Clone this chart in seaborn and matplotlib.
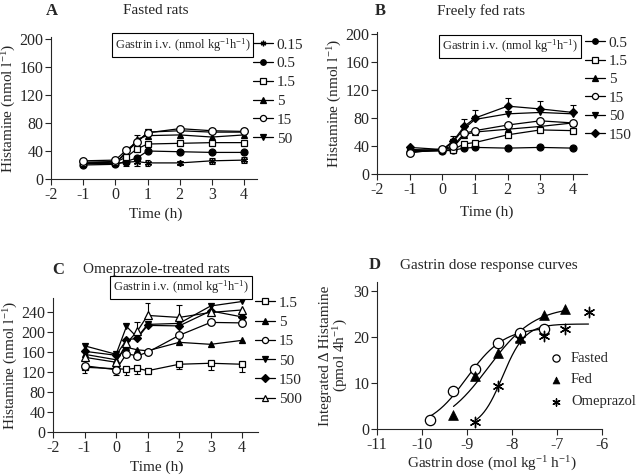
import numpy as np
import pandas as pd
import matplotlib
matplotlib.use("Agg")
import matplotlib.pyplot as plt
import seaborn as sns

# ---------------- data ----------------
time = [-1, 0, 0.33, 0.67, 1, 2, 3, 4]

# Panel A: fasted rats
a_labels = ["0.15", "0.5", "1.5", "5", "15", "50"]
a_0_15 = [22, 22, 24, 25, 23, 23, 26, 27]
a_0_5 = [20, 21, 25, 30, 40, 39, 38, 38]
a_1_5 = [23, 24, 31, 43, 50, 51, 52, 52]
a_5 = [24, 25, 35, 57, 62, 63, 60, 63]
a_15 = [26, 27, 41, 53, 66, 72, 69, 68]
a_50 = [22, 22, 39, 52, 67, 69, 67, 67]
a_err_0_15 = [3, 3, 5, 6, 4, 3, 4, 4]
a_err_5 = [0, 0, 0, 6, 0, 0, 0, 0]

# Panel B: freely fed rats
b_labels = ["0.5", "1.5", "5", "15", "50", "150"]
b_0_5 = [32, 33, 34, 37, 38, 37, 38, 37]
b_1_5 = [32, 34, 35, 43, 45, 56, 63, 62]
b_5 = [33, 35, 38, 56, 60, 64, 68, 73]
b_15 = [30, 36, 40, 58, 62, 70, 76, 73]
b_50 = [35, 34, 46, 65, 78, 86, 88, 86]
b_150 = [38, 35, 47, 68, 80, 97, 93, 88]
b_err_50 = [0, 0, 8, 0, 0, 0, 0, 0]
b_err_150 = [0, 0, 0, 10, 11, 12, 12, 10]

# Panel C: omeprazole-treated rats
c_labels = ["1.5", "5", "15", "50", "150", "500"]
c_1_5 = [130, 127, 126, 128, 123, 136, 138, 136]
c_5 = [156, 145, 170, 165, 163, 180, 176, 184]
c_15 = [133, 125, 157, 153, 160, 194, 220, 219]
c_50 = [173, 156, 212, 190, 216, 218, 253, 262]
c_150 = [162, 154, 185, 188, 214, 213, 243, 231]
c_500 = [150, 140, 178, 202, 234, 230, 240, 245]
c_err_1_5 = [12, 12, 12, 12, 0, 10, 13, 15]
c_err_500 = [0, 0, 0, 18, 25, 24, 0, 0]
c_err_50 = [0, 0, 0, 0, 0, 0, 0, 8]

# Panel D: dose response (log mol kg-1 h-1)
d_labels = ["Fasted", "Fed", "Omeprazol"]
d_fasted_x = [-9.82, -9.30, -8.82, -8.30, -7.82, -7.30]
d_fasted_y = [2.0, 8.3, 13.0, 18.8, 20.9, 21.8]
d_fed_x = [-9.30, -8.82, -8.30, -7.82, -7.30, -6.82]
d_fed_y = [3.0, 11.5, 16.6, 19.8, 24.8, 26.2]
d_ome_x = [-8.82, -8.30, -7.82, -7.30, -6.82, -6.30]
d_ome_y = [1.5, 9.3, 19.5, 20.2, 21.7, 25.5]

# ---------------- style ----------------
sns.set_style("ticks")
plt.rcParams["font.family"] = ["Liberation Serif", "DejaVu Serif"]
plt.rcParams["mathtext.default"] = "regular"
plt.rcParams["axes.unicode_minus"] = False
plt.rcParams["axes.linewidth"] = 0.8

W, H = 640, 475
fig = plt.figure(figsize=(6.4, 4.75), dpi=100)

TICK_FS = 11.5
LAB_FS = 11
LEG_FS = 11
TITLE_FS = 11


def fx(px):
    return px / W


def fy(py):
    return 1 - py / H


def make_ax(l, r, b, t):
    return fig.add_axes([fx(l), fy(b), fx(r) - fx(l), (b - t) / H])


axA = make_ax(51, 257, 179, 37)
axB = make_ax(377, 587, 174, 32)
axC = make_ax(53, 258, 432, 298)
axD = make_ax(377, 602, 429, 282)

STY = {
    "ast": dict(marker=(6, 2, 0), ms=5, mfc="k", mew=1.0),
    "fo": dict(marker="o", ms=5, mfc="k", mew=0.9),
    "os": dict(marker="s", ms=5, mfc="white", mew=0.9),
    "ft": dict(marker="^", ms=5, mfc="k", mew=0.9),
    "oo": dict(marker="o", ms=5.5, mfc="white", mew=0.9),
    "fv": dict(marker="v", ms=5, mfc="k", mew=0.9),
    "fd": dict(marker="D", ms=4.5, mfc="k", mew=0.9),
    "ot": dict(marker="^", ms=5.5, mfc="white", mew=0.9),
}


def series(ax, y, sty, label, z):
    df = pd.DataFrame({"t": time, "v": y})
    s = STY[sty]
    sns.lineplot(data=df, x="t", y="v", ax=ax, color="k", lw=0.9,
                 marker=s["marker"], markersize=s["ms"],
                 markerfacecolor=s["mfc"], markeredgecolor="k",
                 markeredgewidth=s["mew"], label=label, zorder=z)


def errs(ax, y, up=None, lo=None, cw=0.09):
    for i, t in enumerate(time):
        if up is not None and up[i] > 0:
            ax.vlines(t, y[i], y[i] + up[i], color="k", lw=0.8, zorder=1)
            ax.hlines(y[i] + up[i], t - cw, t + cw, color="k", lw=0.8, zorder=1)
        if lo is not None and lo[i] > 0:
            ax.vlines(t, y[i] - lo[i], y[i], color="k", lw=0.8, zorder=1)
            ax.hlines(y[i] - lo[i], t - cw, t + cw, color="k", lw=0.8, zorder=1)


def style_time_axis(ax, ymax, yticks, xmax):
    ax.set_xlim(-2, xmax)
    ax.set_ylim(0, ymax)
    ax.set_xticks(range(-2, 5))
    ax.set_yticks(yticks)
    sns.despine(ax=ax)
    ax.tick_params(direction="out", length=4, width=0.8, labelsize=TICK_FS, pad=1.5)
    ax.set_xlabel("Time (h)", fontsize=LAB_FS)
    ax.set_ylabel(r"Histamine (nmol l$^{-1}$)", fontsize=LAB_FS)


def legend_at(ax, handles, labels, left_px, first_row_px, pitch, fs=LEG_FS,
              hl=1.3, htp=0.25, ms=0.8):
    fpx = fs * 100 / 72
    base = 0.912 * fpx
    top_px = first_row_px - base / 2
    leg = ax.legend(handles, labels, loc="upper left",
                    bbox_to_anchor=(fx(left_px), fy(top_px)),
                    bbox_transform=fig.transFigure, frameon=False,
                    fontsize=fs, handlelength=hl, handletextpad=htp,
                    borderpad=0, borderaxespad=0,
                    labelspacing=(pitch - base) / fpx,
                    markerscale=ms)
    return leg


def box_text(cx, cy, s):
    fig.text(fx(cx), fy(cy), s, ha="center", va="center", fontsize=9,
             bbox=dict(boxstyle="square,pad=0.25", fc="white", ec="k", lw=0.8))


# ---------------- Panel A ----------------
series(axA, a_0_15, "ast", a_labels[0], 3)
series(axA, a_0_5, "fo", a_labels[1], 3)
series(axA, a_50, "fv", a_labels[5], 3)
series(axA, a_5, "ft", a_labels[3], 3)
series(axA, a_1_5, "os", a_labels[2], 4)
series(axA, a_15, "oo", a_labels[4], 4)
errs(axA, a_0_15, up=a_err_0_15, lo=a_err_0_15)
errs(axA, a_5, up=a_err_5)
style_time_axis(axA, 203, range(0, 201, 40), 4.4)
axA.xaxis.set_label_coords(0.51, -0.2)
axA.yaxis.set_label_coords(-0.16, 0.5)
h, l = axA.get_legend_handles_labels()
order = [l.index(x) for x in a_labels]
legend_at(axA, [h[i] for i in order], a_labels, 253, 45, 19)
box_text(182.5, 45, r"Gastrin i.v. (nmol kg$^{-1}$h$^{-1}$)")
fig.text(fx(52), fy(11), "A", ha="center", va="center", fontsize=12, fontweight="bold")
fig.text(fx(123), fy(11), "Fasted rats", ha="left", va="center", fontsize=TITLE_FS)

# ---------------- Panel B ----------------
series(axB, b_0_5, "fo", b_labels[0], 3)
series(axB, b_1_5, "os", b_labels[1], 4)
series(axB, b_5, "ft", b_labels[2], 3)
series(axB, b_15, "oo", b_labels[3], 4)
series(axB, b_50, "fv", b_labels[4], 3)
series(axB, b_150, "fd", b_labels[5], 3)
errs(axB, b_50, up=b_err_50)
errs(axB, b_150, up=b_err_150)
style_time_axis(axB, 203, range(0, 201, 40), 4.43)
axB.xaxis.set_label_coords(0.52, -0.22)
axB.yaxis.set_label_coords(-0.155, 0.5)
h, l = axB.get_legend_handles_labels()
order = [l.index(x) for x in b_labels]
legend_at(axB, [h[i] for i in order], b_labels, 585, 43, 18.6)
box_text(510, 46.5, r"Gastrin i.v. (nmol kg$^{-1}$h$^{-1}$)")
fig.text(fx(380), fy(11), "B", ha="center", va="center", fontsize=12, fontweight="bold")
fig.text(fx(437), fy(11), "Freely fed rats", ha="left", va="center", fontsize=TITLE_FS)

# ---------------- Panel C ----------------
series(axC, c_1_5, "os", c_labels[0], 4)
series(axC, c_5, "ft", c_labels[1], 3)
series(axC, c_15, "oo", c_labels[2], 4)
series(axC, c_50, "fv", c_labels[3], 3)
series(axC, c_150, "fd", c_labels[4], 3)
series(axC, c_500, "ot", c_labels[5], 4)
errs(axC, c_1_5, lo=c_err_1_5)
errs(axC, c_500, up=c_err_500)
errs(axC, c_50, up=c_err_50)
style_time_axis(axC, 269, range(0, 241, 40), 4.5)
axC.xaxis.set_label_coords(0.507, -0.21)
axC.yaxis.set_label_coords(-0.163, 0.5)
h, l = axC.get_legend_handles_labels()
order = [l.index(x) for x in c_labels]
legend_at(axC, [h[i] for i in order], c_labels, 255, 303, 19.5)
box_text(181, 287.5, r"Gastrin i.v. (nmol kg$^{-1}$h$^{-1}$)")
fig.text(fx(58), fy(270), "C", ha="center", va="center", fontsize=12, fontweight="bold")
fig.text(fx(83), fy(270), "Omeprazole-treated rats", ha="left", va="center", fontsize=TITLE_FS)

# ---------------- Panel D ----------------


def fit_hill(x, y):
    x = np.asarray(x)
    y = np.asarray(y)
    ec = np.arange(-10.5, -6.5, 0.005)[:, None, None]
    hs = np.arange(0.3, 3.0, 0.01)[None, :, None]
    f = 1.0 / (1.0 + 10 ** ((ec - x[None, None, :]) * hs))
    top = (f * y).sum(-1) / (f * f).sum(-1)
    res = ((y - top[..., None] * f) ** 2).sum(-1)
    i, j = np.unravel_index(np.argmin(res), res.shape)
    return ec[i, 0, 0], hs[0, j, 0], top[i, j]


for xs, ys in [(d_fasted_x, d_fasted_y), (d_fed_x, d_fed_y), (d_ome_x, d_ome_y)]:
    e, hh, tp = fit_hill(xs, ys)
    xx = np.linspace(min(xs), max(xs), 200)
    yy = tp / (1 + 10 ** ((e - xx) * hh))
    sns.lineplot(x=xx, y=yy, ax=axD, color="k", lw=0.9, zorder=2)

sns.scatterplot(x=d_fasted_x, y=d_fasted_y, ax=axD, marker="o", s=55,
                facecolor="white", edgecolor="k", linewidth=0.9, zorder=4,
                label=d_labels[0])
sns.scatterplot(x=d_fed_x, y=d_fed_y, ax=axD, marker="^", s=50,
                color="k", edgecolor="k", linewidth=0.5, zorder=4,
                label=d_labels[1])
sns.scatterplot(x=d_ome_x, y=d_ome_y, ax=axD, marker=(6, 2, 0), s=55,
                color="k", linewidth=1.0, zorder=4, label=d_labels[2])
axD.set_xlim(-11, -6)
axD.set_ylim(0, 32)
axD.set_xticks(range(-11, -5))
axD.set_yticks([0, 10, 20, 30])
sns.despine(ax=axD)
axD.tick_params(direction="out", length=4, width=0.8, labelsize=TICK_FS, pad=1.5)
axD.set_xlabel(r"Gastrin dose (mol kg$^{-1}$ h$^{-1}$)", fontsize=LAB_FS)
axD.set_ylabel("Integrated \u0394 Histamine\n" + r"(pmol 4h$^{-1}$)", fontsize=LAB_FS,
               linespacing=1.05)
axD.xaxis.set_label_coords(0.513, -0.175)
axD.yaxis.set_label_coords(-0.118, 0.5)
h, l = axD.get_legend_handles_labels()
legend_at(axD, h, l, 552, 358, 22, fs=10.5, hl=0.6, htp=0.7, ms=0.7)
fig.text(fx(375), fy(265), "D", ha="center", va="center", fontsize=12, fontweight="bold")
fig.text(fx(400), fy(265), "Gastrin dose response curves", ha="left", va="center",
         fontsize=TITLE_FS)

fig.savefig("out.png", dpi=100)
